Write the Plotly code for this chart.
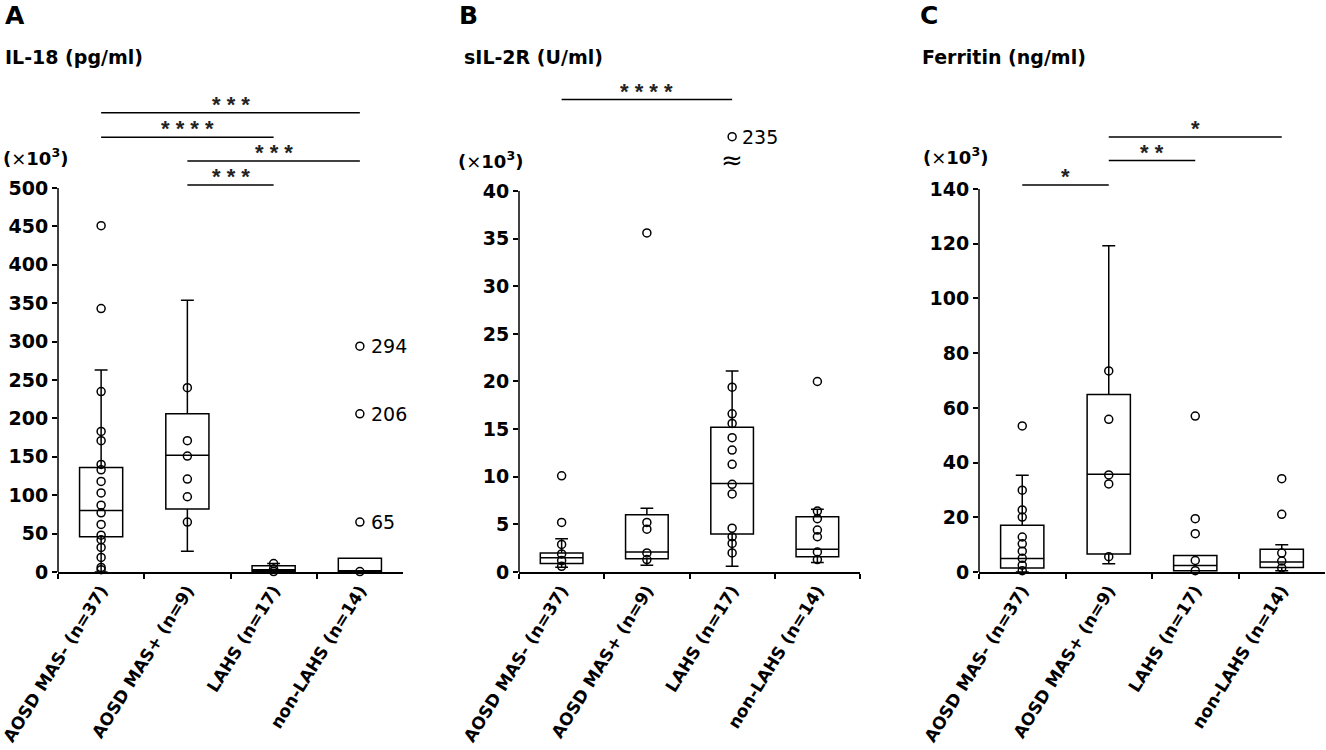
import plotly.graph_objects as go

W, H = 1326, 750

# groups (same in every panel)
cats = ["AOSD MAS- (n=37)", "AOSD MAS+ (n=9)", "LAHS (n=17)", "non-LAHS (n=14)"]

# A: IL-18 (x10^3 pg/ml)
il18_q1 = [46, 82, 1, 0.3]
il18_med = [80, 152, 3, 1.2]
il18_q3 = [136, 206, 8, 18]
il18_lo = [0, 27, 0, 0.3]
il18_hi = [263, 354, 11, 18]
il18_mas_neg = [451, 343, 235, 183, 171, 140, 133, 118, 103, 87, 77, 62, 48, 42, 32, 19, 6, 3]
il18_mas_pos = [240, 171, 151, 121, 98, 65]
il18_lahs = [11, 4, 0.5]
il18_nonlahs = [294, 206, 65, 0.5]
il18_labeled = [294, 206, 65]

# B: sIL-2R (x10^3 U/ml)
il2r_q1 = [0.9, 1.4, 4.0, 1.6]
il2r_med = [1.5, 2.1, 9.3, 2.4]
il2r_q3 = [2.0, 6.0, 15.2, 5.8]
il2r_lo = [0.5, 0.7, 0.6, 1.0]
il2r_hi = [3.5, 6.7, 21.1, 6.6]
il2r_mas_neg = [10.1, 5.2, 2.9, 1.9, 1.2, 0.6]
il2r_mas_pos = [35.6, 5.2, 4.5, 2.0, 1.3]
il2r_lahs = [235, 19.4, 16.6, 15.6, 14.1, 12.8, 11.3, 9.2, 8.2, 4.6, 3.7, 3.0, 2.0]
il2r_nonlahs = [20.0, 6.4, 5.6, 4.4, 3.7, 2.1, 1.3]

# C: Ferritin (x10^3 ng/ml)
fer_q1 = [1.5, 6.6, 0.5, 1.6]
fer_med = [4.9, 35.7, 2.4, 3.7]
fer_q3 = [17.1, 64.9, 6.0, 8.3]
fer_lo = [0, 3.0, 0.5, 0.5]
fer_hi = [35.4, 119.3, 6.0, 10.0]
fer_mas_neg = [53.4, 29.9, 22.7, 20.1, 12.8, 10.3, 7.6, 5.0, 2.5, 0.5]
fer_mas_pos = [73.5, 55.8, 35.5, 32.2, 5.6]
fer_lahs = [57.0, 19.5, 14.0, 4.2, 0.5]
fer_nonlahs = [34.1, 21.1, 6.9, 4.0, 1.5]

# significance brackets: (from group, to group, height, stars)
sig_a = [(0, 3, 598, "* * *"), (0, 2, 566, "* * * *"), (1, 3, 535, "* * *"), (1, 2, 504, "* * *")]
sig_b = [(0, 2, 49.6, "* * * *")]
sig_c = [(0, 1, 141.5, "*"), (1, 2, 150.4, "* *"), (1, 3, 159, "*")]

FONT = "DejaVu Sans"


def px(x):
    return x / W


def py(y):
    return 1 - y / H


ydom = [py(572), py(90)]

panels = [
    dict(letter="A", title="IL-18 (pg/ml)", xdom=[px(58), px(403)], yrange=[0, 627.6],
         ytop=500, dtick=50, stats=(il18_q1, il18_med, il18_q3, il18_lo, il18_hi),
         pts=[il18_mas_neg, il18_mas_pos, il18_lahs, il18_nonlahs], sig=sig_a,
         lx=3, tx=3, ux=1, uy=157),
    dict(letter="B", title="sIL-2R (U/ml)", xdom=[px(519), px(860)], yrange=[0, 50.6],
         ytop=40, dtick=5, stats=(il2r_q1, il2r_med, il2r_q3, il2r_lo, il2r_hi),
         pts=[il2r_mas_neg, il2r_mas_pos, il2r_lahs, il2r_nonlahs], sig=sig_b,
         lx=457, tx=462, ux=456, uy=160),
    dict(letter="C", title="Ferritin (ng/ml)", xdom=[px(979), px(1325)], yrange=[0, 176.2],
         ytop=140, dtick=20, stats=(fer_q1, fer_med, fer_q3, fer_lo, fer_hi),
         pts=[fer_mas_neg, fer_mas_pos, fer_lahs, fer_nonlahs], sig=sig_c,
         lx=918, tx=920, ux=921, uy=156),
]

BREAK_Y = 45.7  # where off-scale values are drawn (panel B)

fig = go.Figure()
shapes = []
annots = []
layout = {}

for k, p in enumerate(panels):
    n = "" if k == 0 else str(k + 1)
    xa, ya = "x" + n, "y" + n
    q1, med, q3, lo, hi = p["stats"]
    fig.add_trace(go.Box(
        x=cats, q1=q1, median=med, q3=q3, lowerfence=lo, upperfence=hi,
        boxpoints=False, width=0.5, whiskerwidth=0.3,
        line=dict(color="black", width=1.5), fillcolor="white",
        xaxis=xa, yaxis=ya, showlegend=False, hoverinfo="skip"))
    for c, vals in zip(cats, p["pts"]):
        ys = [v if v <= p["ytop"] else BREAK_Y for v in vals]
        fig.add_trace(go.Scatter(
            x=[c] * len(vals), y=ys, mode="markers", xaxis=xa, yaxis=ya,
            marker=dict(symbol="circle-open", size=8, color="black", line=dict(width=1.5)),
            showlegend=False, cliponaxis=False, hoverinfo="skip"))
        for v in vals:
            if v > p["ytop"]:
                annots.append(dict(x=c, y=BREAK_Y, xref=xa, yref=ya, text=str(v),
                                   showarrow=False, xanchor="left", yanchor="middle", xshift=8,
                                   font=dict(family=FONT, size=19, color="black")))
                annots.append(dict(x=c, y=BREAK_Y - 2.4, xref=xa, yref=ya, text="≈",
                                   showarrow=False, xanchor="center", yanchor="middle",
                                   font=dict(family=FONT, size=26, color="black")))

    layout["xaxis" + n] = dict(
        domain=p["xdom"], anchor=ya, type="category", categoryarray=cats,
        range=[-0.5, 3.5], showline=True, linecolor="black", linewidth=1.5,
        ticks="outside", tickson="boundaries", ticklen=5, tickwidth=1.5, tickcolor="black",
        tickangle=-58, showgrid=False, zeroline=False, automargin=False,
        tickfont=dict(family=FONT, size=17, color="black", weight=700))
    layout["yaxis" + n] = dict(
        domain=ydom, anchor=xa, range=p["yrange"], showline=False, showgrid=False,
        zeroline=False, ticks="outside", ticklen=5, tickwidth=1.5, tickcolor="black",
        tickvals=list(range(0, p["ytop"] + 1, p["dtick"])), automargin=False,
        tickfont=dict(family=FONT, size=19, color="black", weight=700))

    # y axis line only up to the top tick
    shapes.append(dict(type="line", xref=xa + " domain", yref=ya, x0=0, x1=0,
                       y0=0, y1=p["ytop"], line=dict(color="black", width=1.5)))

    for i, j, h, stars in p["sig"]:
        shapes.append(dict(type="line", xref=xa, yref=ya, x0=i, x1=j, y0=h, y1=h,
                           line=dict(color="black", width=1.5)))
        annots.append(dict(x=(i + j) / 2, y=h, xref=xa, yref=ya, text=stars,
                           showarrow=False, xanchor="center", yanchor="bottom", yshift=-6,
                           font=dict(family="Liberation Sans", size=22, color="#222",
                                     weight=700)))

    # panel letter, title and unit
    annots.append(dict(x=px(p["lx"]), y=py(16), xref="paper", yref="paper",
                       text="<b>%s</b>" % p["letter"], showarrow=False,
                       xanchor="left", yanchor="middle",
                       font=dict(family=FONT, size=25, color="black")))
    annots.append(dict(x=px(p["tx"]), y=py(57), xref="paper", yref="paper",
                       text="<b>%s</b>" % p["title"], showarrow=False,
                       xanchor="left", yanchor="middle",
                       font=dict(family=FONT, size=19, color="black")))
    annots.append(dict(x=px(p["ux"]), y=py(p["uy"]), xref="paper", yref="paper",
                       text="<b>(</b>×<b>10<sup>3</sup>)</b>", showarrow=False,
                       xanchor="left", yanchor="middle",
                       font=dict(family=FONT, size=18, color="black")))

# values written next to the non-LAHS outliers in panel A
for v in il18_labeled:
    annots.append(dict(x=cats[3], y=v, xref="x", yref="y", text=str(v), showarrow=False,
                       xanchor="left", yanchor="middle", xshift=9,
                       font=dict(family=FONT, size=19, color="black")))

fig.update_layout(
    width=W, height=H, margin=dict(l=0, r=0, t=0, b=0),
    paper_bgcolor="white", plot_bgcolor="white",
    shapes=shapes, annotations=annots, **layout)

# drop the page's default body margin so the figure sits at the window corner
fig.write_html("out.html", config={"displayModeBar": False},
               post_script="document.body.style.margin='0';document.body.style.overflow='hidden';")
